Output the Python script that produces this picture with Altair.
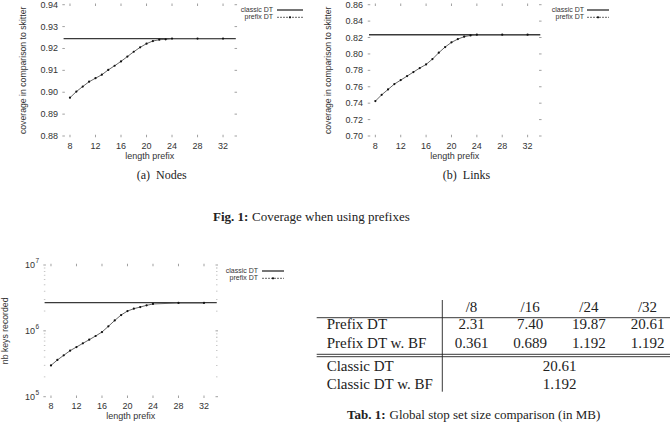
import altair as alt
import pandas as pd

# ---------------- data ----------------
prefix_len = [8, 9, 10, 11, 12, 13, 14, 15, 16, 17, 18, 19, 20, 21, 22, 23, 24, 28, 32]
nodes_prefix = [0.8975, 0.9003, 0.9026, 0.9048, 0.9064, 0.9080, 0.9102, 0.9121, 0.9141, 0.9163,
                0.9185, 0.9205, 0.9222, 0.9234, 0.9240, 0.9242, 0.9245, 0.9245, 0.9245]
nodes_classic = 0.9245
links_prefix = [0.7425, 0.7502, 0.7567, 0.7633, 0.7681, 0.7730, 0.7779, 0.7828, 0.7872, 0.7937,
                0.8015, 0.8084, 0.8141, 0.8181, 0.8210, 0.8226, 0.8234, 0.8234, 0.8234]
links_classic = 0.8234
keys_prefix = [299e3, 361e3, 425e3, 500e3, 568e3, 646e3, 734e3, 835e3, 960e3, 1.17e6,
               1.44e6, 1.74e6, 2.0e6, 2.17e6, 2.30e6, 2.44e6, 2.56e6, 2.65e6, 2.65e6]
keys_classic = 2.68e6

x_ticks = [8, 12, 16, 20, 24, 28, 32]
nodes_ticks = [0.88, 0.89, 0.90, 0.91, 0.92, 0.93, 0.94]
nodes_labels = ["0.88", "0.89", "0.90", "0.91", "0.92", "0.93", "0.94"]
links_ticks = [0.70, 0.72, 0.74, 0.76, 0.78, 0.80, 0.82, 0.84, 0.86]
links_labels = ["0.70", "0.72", "0.74", "0.76", "0.78", "0.80", "0.82", "0.84", "0.86"]
log_major = [1e5, 1e6, 1e7]
log_exponents = ["5", "6", "7"]
log_minor = [2e5, 3e5, 4e5, 5e5, 6e5, 7e5, 8e5, 9e5, 2e6, 3e6, 4e6, 5e6, 6e6, 7e6, 8e6, 9e6]

table_cols = ["/8", "/16", "/24", "/32"]
table_rows = ["Prefix DT", "Prefix DT w. BF"]
table_prefix_dt = ["2.31", "7.40", "19.87", "20.61"]
table_prefix_bf = ["0.361", "0.689", "1.192", "1.192"]
table_classic_rows = ["Classic DT", "Classic DT w. BF"]
table_classic_vals = ["20.61", "1.192"]

SANS = "Liberation Sans"
SERIF = "Liberation Serif"
INK = "#222222"
NB = "\u00a0"


def txt(text, x, y, size, font=SERIF, align="center", weight="normal", angle=0, color=INK):
    return alt.Chart(pd.DataFrame({"t": [text]})).mark_text(
        text=text, font=font, fontSize=size, align=align, baseline="middle",
        fontWeight=weight, angle=angle, color=color
    ).encode(x=alt.value(x), y=alt.value(y))


def hline(x0, x1, y, color=INK, w=0.9):
    return alt.Chart(pd.DataFrame({"a": [0]})).mark_rule(color=color, strokeWidth=w).encode(
        x=alt.value(x0), x2=alt.value(x1), y=alt.value(y))


def vline(x, y0, y1, color=INK, w=0.9):
    return alt.Chart(pd.DataFrame({"a": [0]})).mark_rule(color=color, strokeWidth=w).encode(
        x=alt.value(x), y=alt.value(y0), y2=alt.value(y1))


def panel(box, ydom, ylog, yvals, classic, yticks, ylabels, legend, ytitle, ylab_dx=-5.6):
    x0, x1, y0, y1 = box
    xsc = alt.Scale(domain=[7, 34], range=[x0, x1], nice=False, zero=False)
    ysc = alt.Scale(type="log" if ylog else "linear", domain=ydom, range=[y1, y0],
                    nice=False, zero=False)
    X = alt.X("x:Q", scale=xsc, axis=None)
    Y = alt.Y("y:Q", scale=ysc, axis=None)
    L = []
    tick_col = "#777777"
    # x ticks (bottom & top)
    xt = pd.DataFrame({"x": x_ticks, "label": [str(v) for v in x_ticks]})
    for yd in ydom:
        L.append(alt.Chart(xt).mark_tick(orient="vertical", size=2.5, thickness=1, color=tick_col)
                 .encode(x=X, y=alt.YDatum(yd, scale=ysc, axis=None)))
    # y ticks (left & right)
    yt = pd.DataFrame({"y": yticks})
    for xd in [7, 34]:
        L.append(alt.Chart(yt).mark_tick(orient="horizontal", size=2.5, thickness=1, color=tick_col)
                 .encode(y=Y, x=alt.XDatum(xd, scale=xsc, axis=None)))
    if ylog:
        ym = pd.DataFrame({"y": log_minor})
        for xd in [7, 34]:
            L.append(alt.Chart(ym).mark_tick(orient="horizontal", size=1.5, thickness=0.8, color="#999999")
                     .encode(y=Y, x=alt.XDatum(xd, scale=xsc, axis=None)))
    # x tick labels
    L.append(alt.Chart(xt).mark_text(font=SANS, fontSize=9, dy=9.7, baseline="middle", color="#333333")
             .encode(x=X, y=alt.YDatum(ydom[0], scale=ysc, axis=None), text="label:N"))
    # y tick labels
    if ylog:
        yl = pd.DataFrame({"y": yticks, "e": ylabels})
        L.append(alt.Chart(yl).mark_text(text="10", font=SANS, fontSize=9, dx=-9.6, align="right",
                                         baseline="middle", color="#333333")
                 .encode(y=Y, x=alt.XDatum(7, scale=xsc, axis=None)))
        L.append(alt.Chart(yl).mark_text(font=SANS, fontSize=6.5, dx=-9.2, dy=-4, align="left",
                                         baseline="middle", color="#333333")
                 .encode(y=Y, x=alt.XDatum(7, scale=xsc, axis=None), text="e:N"))
    else:
        yl = pd.DataFrame({"y": yticks, "label": ylabels})
        L.append(alt.Chart(yl).mark_text(font=SANS, fontSize=9, dx=ylab_dx, align="right",
                                         baseline="middle", color="#333333")
                 .encode(y=Y, x=alt.XDatum(7, scale=xsc, axis=None), text="label:N"))
    # classic DT
    L.append(alt.Chart(pd.DataFrame({"y": [classic]})).mark_rule(color="#3a3a3a", strokeWidth=1.4)
             .encode(x=alt.XDatum(7, scale=xsc, axis=None), x2=alt.X2Datum(34), y=Y))
    # prefix DT
    df = pd.DataFrame({"x": prefix_len, "y": yvals})
    L.append(alt.Chart(df).mark_line(color="#555555", strokeWidth=0.9).encode(x=X, y=Y))
    L.append(alt.Chart(df).mark_point(filled=True, size=5, color="#111111", opacity=1).encode(x=X, y=Y))
    # axis titles
    L.append(txt("length prefix", (x0 + x1) / 2, y1 + 19.5, 9, font=SANS, color="#333333"))
    L.append(txt(ytitle, x0 - 41 if not ylog else x0 - 39.5, (y0 + y1) / 2, 8.7, font=SANS,
                 angle=270, color="#333333"))
    # legend
    tx, lx0, lx1, ly0, ly1 = legend
    L.append(txt("classic DT", tx, ly0, 7, font=SANS, align="right", color="#333333"))
    L.append(txt("prefix DT", tx, ly1, 7, font=SANS, align="right", color="#333333"))
    L.append(hline(lx0, lx1, ly0, color="#3a3a3a", w=1.4))
    L.append(alt.Chart(pd.DataFrame({"a": [0]})).mark_rule(color="#555555", strokeWidth=0.9,
                                                            strokeDash=[2, 1])
             .encode(x=alt.value(lx0), x2=alt.value(lx1), y=alt.value(ly1)))
    L.append(alt.Chart(pd.DataFrame({"a": [0]})).mark_point(filled=True, size=5, color="#111111", opacity=1)
             .encode(x=alt.value((lx0 + lx1) / 2), y=alt.value(ly1)))
    return L


layers = []
layers += panel((63.6, 235.8, 4.7, 136.0), [0.88, 0.94], False, nodes_prefix, nodes_classic,
                nodes_ticks, nodes_labels, (273, 277, 303, 10, 17.3),
                "coverage in comparison to skitter")
layers += panel((369.0, 540.3, 4.7, 136.0), [0.70, 0.86], False, links_prefix, links_classic,
                links_ticks, links_labels, (584, 587, 609, 10, 17.3),
                "coverage in comparison to skitter", ylab_dx=-6)
layers += panel((44.6, 216.75, 265.0, 396.7), [1e5, 1e7], True, keys_prefix, keys_classic,
                log_major, log_exponents, (258, 262, 284, 271, 278.3),
                "nb keys recorded")

# sub captions & figure caption
layers.append(txt("(a)" + NB + NB + "Nodes", 161.7, 174.5, 12))
layers.append(txt("(b)" + NB + NB + "Links", 466.5, 174.5, 12))
layers.append(txt("Fig. 1:", 213, 216.7, 13, align="left", weight="bold"))
layers.append(txt("Coverage when using prefixes", 252, 216.7, 13, align="left"))

# ---------------- table ----------------
csc = alt.Scale(domain=[1, 4], range=[471.5, 647.5], nice=False, zero=False)
row_y = [306.7, 324.3, 343.3, 366.0, 384.3]
hdr = pd.DataFrame({"c": [1, 2, 3, 4], "t": table_cols})
layers.append(alt.Chart(hdr).mark_text(font=SERIF, fontSize=15, baseline="middle", color=INK)
              .encode(x=alt.X("c:Q", scale=csc, axis=None), y=alt.value(row_y[0]), text="t:N"))
for i, vals in enumerate([table_prefix_dt, table_prefix_bf]):
    d = pd.DataFrame({"c": [1, 2, 3, 4], "t": vals})
    layers.append(alt.Chart(d).mark_text(font=SERIF, fontSize=15, baseline="middle", color=INK)
                  .encode(x=alt.X("c:Q", scale=csc, axis=None), y=alt.value(row_y[1 + i]), text="t:N"))
    layers.append(txt(table_rows[i], 326.7, row_y[1 + i], 15, align="left"))
for i, v in enumerate(table_classic_vals):
    d = pd.DataFrame({"c": [2.5], "t": [v]})
    layers.append(alt.Chart(d).mark_text(font=SERIF, fontSize=15, baseline="middle", color=INK)
                  .encode(x=alt.X("c:Q", scale=csc, axis=None), y=alt.value(row_y[3 + i]), text="t:N"))
    layers.append(txt(table_classic_rows[i], 326.7, row_y[3 + i], 15, align="left"))
layers.append(hline(316.7, 670, 317.7))
layers.append(hline(316.7, 670, 354.3))
layers.append(hline(316.7, 670, 356.7))
layers.append(vline(442.3, 300, 391.7))
layers.append(txt("Tab. 1:", 347, 415, 13, align="left", weight="bold"))
layers.append(txt("Global stop set size comparison (in MB)", 389.5, 415, 13, align="left"))

chart = alt.layer(*layers).resolve_scale(x="independent", y="independent").properties(
    width=672, height=432, autosize=alt.AutoSizeParams(type="none"), padding=0,
    background="white"
).configure_view(stroke=None)

chart.save("out.html", embed_options={"renderer": "svg", "actions": False})
